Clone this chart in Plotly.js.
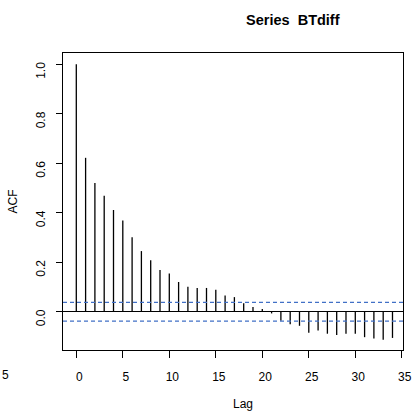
<!DOCTYPE html>
<html>
<head>
<meta charset="utf-8">
<script src="https://cdn.plot.ly/plotly-3.0.1.min.js"></script>
<style>html,body{margin:0;padding:0;background:#fff;}#chart{width:415px;height:414px;}</style>
</head>
<body>
<div id="chart"></div>
<script>
// Data
const lags = [0,1,2,3,4,5,6,7,8,9,10,11,12,13,14,15,16,17,18,19,20,21,22,23,24,25,26,27,28,29,30,31,32,33,34];
const acfValues = [1.000,0.622,0.520,0.469,0.411,0.369,0.301,0.245,0.208,0.169,0.154,0.120,0.101,0.096,0.096,0.089,0.065,0.059,0.034,0.019,0.011,-0.007,-0.037,-0.051,-0.057,-0.085,-0.076,-0.089,-0.094,-0.089,-0.089,-0.103,-0.108,-0.113,-0.106];
const confLimit = 0.038;
const xTickVals = [0,5,10,15,20,25,30,35];
const xTickText = ["0","5","10","15","20","25","30","35"];
const yTickVals = [0,0.2,0.4,0.6,0.8,1.0];
const yTickText = ["0.0","0.2","0.4","0.6","0.8","1.0"];
const chartTitle = "Series  BTdiff";
const xTitle = "Lag";
const yTitle = "ACF";

// Build vertical spikes from data
const sx = [], sy = [];
lags.forEach((l, i) => { sx.push(l, l, null); sy.push(0, acfValues[i], null); });

const font = {family: "Liberation Sans, Arial, sans-serif", size: 12, color: "#000"};

const data = [{
  type: "scatter", mode: "lines", x: sx, y: sy,
  line: {color: "#000", width: 1.3}, hoverinfo: "skip", showlegend: false
}];

const layout = {
  width: 415, height: 414,
  margin: {l: 63, r: 12, t: 53, b: 64, pad: 0},
  paper_bgcolor: "#fff", plot_bgcolor: "#fff",
  font: font,
  showlegend: false,
  title: {text: "<b>" + chartTitle + "</b>", font: {family: font.family, size: 14.5, color: "#000"},
          x: 280.5/415, xref: "paper", xanchor: "center", y: 1 - 20/414, yanchor: "middle"},
  xaxis: {
    range: [-1.43, 35.13], tickvals: xTickVals, ticktext: xTickText,
    ticks: "outside", ticklen: 7, tickwidth: 1, tickcolor: "#000",
    showgrid: false, zeroline: false,
    showline: true, mirror: true, linecolor: "#000", linewidth: 1,
    ticklabelstandoff: 9, ticklabelshift: 3
  },
  yaxis: {
    range: [-0.1548, 1.0457], tickvals: yTickVals, ticktext: yTickText,
    ticks: "outside", ticklen: 6, tickwidth: 1, tickcolor: "#000", tickangle: -90,
    showgrid: false, zeroline: true, zerolinecolor: "#000", zerolinewidth: 1,
    showline: true, mirror: true, linecolor: "#000", linewidth: 1,
    ticklabelstandoff: 6, ticklabelshift: 8,
    title: {text: yTitle, font: {family: font.family, size: 12, color: "#000"}, standoff: 14}
  },
  shapes: [
    {type: "line", xref: "paper", x0: 0, x1: 1, yref: "y", y0: confLimit, y1: confLimit,
     line: {color: "#4170c6", width: 1.2, dash: "4px,3px"}},
    {type: "line", xref: "paper", x0: 0, x1: 1, yref: "y", y0: -confLimit, y1: -confLimit,
     line: {color: "#4170c6", width: 1.2, dash: "4px,3px"}}
  ],
  annotations: [
    {text: xTitle, xref: "paper", yref: "paper", x: (243 - 63)/340, y: -(404 - 350)/297,
     xanchor: "center", yanchor: "middle", showarrow: false, font: font},
    {text: "5", xref: "paper", yref: "paper", x: (0 - 63)/340, y: -(375 - 350)/297,
     xanchor: "left", yanchor: "middle", showarrow: false, font: font}
  ]
};

Plotly.newPlot("chart", data, layout, {staticPlot: true, displayModeBar: false});
</script>
</body>
</html>
